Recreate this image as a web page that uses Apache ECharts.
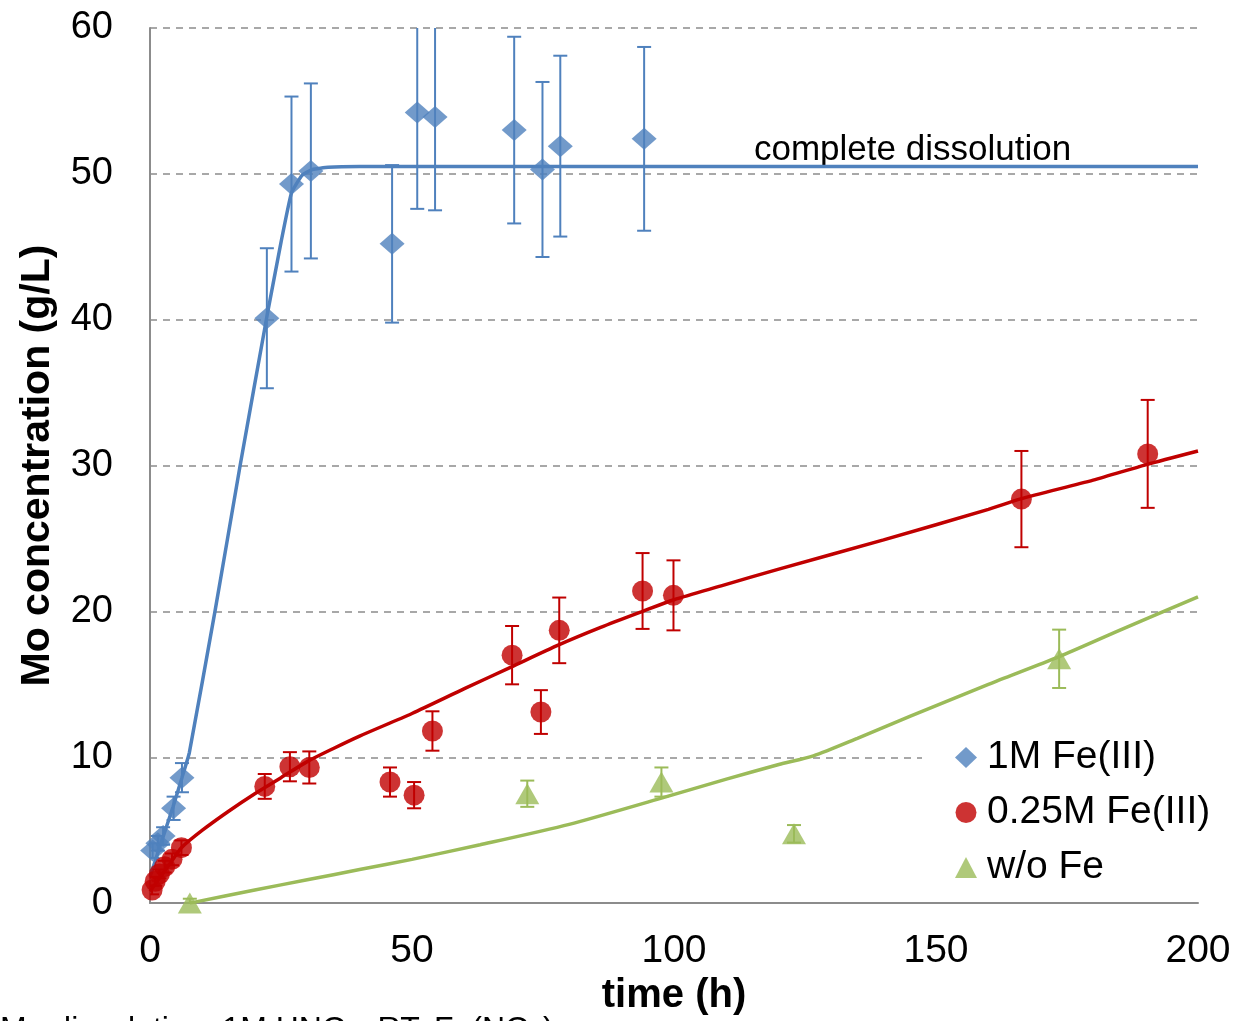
<!DOCTYPE html>
<html><head><meta charset="utf-8">
<script src="https://cdn.jsdelivr.net/npm/echarts@6/dist/echarts.min.js"></script>
<style>html,body{margin:0;padding:0;background:#fff;}#c{width:1234px;height:1021px;}</style>
</head><body><div id="c"></div>
<script>
// ---- data ----
const xTickValues = [0, 50, 100, 150, 200];
const yTickValues = [0, 10, 20, 30, 40, 50, 60];

const blueName = '1M Fe(III)';
const blueX = [0.5, 1.5, 2.5, 4.5, 6.1, 22.3, 27.0, 30.7, 46.2, 51.0, 54.4, 69.5, 74.9, 78.3, 94.3];
const blueY = [3.6, 4.1, 4.6, 6.5, 8.6, 40.1, 49.3, 50.2, 45.2, 54.2, 53.9, 53.0, 50.3, 51.9, 52.4];
const blueErr = [0.5, 0.5, 0.6, 0.8, 1.0, 4.8, 6.0, 6.0, 5.4, 6.6, 6.4, 6.4, 6.0, 6.2, 6.3];

const redName = '0.25M Fe(III)';
const redX = [0.4, 1.0, 1.8, 2.8, 4.2, 6.0, 21.9, 26.7, 30.4, 45.8, 50.4, 53.9, 69.1, 74.6, 78.1, 94.0, 99.9, 166.3, 190.4];
const redY = [0.9, 1.5, 2.0, 2.5, 3.0, 3.8, 8.0, 9.35, 9.3, 8.3, 7.4, 11.8, 17.0, 13.1, 18.7, 21.4, 21.1, 27.7, 30.8];
const redErr = [0.3, 0.3, 0.3, 0.4, 0.4, 0.5, 0.85, 1.0, 1.1, 1.0, 0.9, 1.35, 2.0, 1.5, 2.25, 2.6, 2.4, 3.3, 3.7];

const greenName = 'w/o Fe';
const greenX = [7.6, 72.0, 97.6, 122.9, 173.5];
const greenY = [0.0, 7.5, 8.3, 4.75, 16.75];
const greenErr = [0.3, 0.9, 1.0, 0.6, 2.0];

const blueFitX = [0, 2, 4.4, 6.1, 7.5, 12.4, 17.2, 22.3, 25, 27, 29, 31, 34, 40, 200];
const blueFitY = [1.8, 4.0, 6.6, 8.6, 10.3, 20.0, 30.0, 40.2, 45.3, 48.7, 49.9, 50.3, 50.45, 50.5, 50.5];

const redFitX = [0, 2, 4, 6, 10, 15, 20, 25, 30, 35, 40, 50, 60, 69, 78, 86, 94, 100, 109, 120, 140, 160, 166, 180, 190, 200];
const redFitY = [0.8, 1.8, 2.8, 3.8, 5.0, 6.3, 7.5, 8.6, 9.7, 10.6, 11.45, 13.0, 14.7, 16.2, 17.7, 18.9, 20.0, 20.8, 21.75, 22.9, 24.9, 27.0, 27.7, 29.0, 30.05, 31.0];

const greenFitX = [7.6, 20, 30, 40, 50, 63, 80, 97.6, 110, 120, 126.6, 135, 145, 160, 173.5, 185, 200];
const greenFitY = [0, 0.9, 1.6, 2.3, 3.0, 4.0, 5.4, 7.2, 8.5, 9.5, 10.1, 11.3, 12.8, 15.0, 16.9, 18.7, 21.0];

const annotationText = 'complete dissolution';
const footText = 'Mo dissolution: 1M HNO\u2083, RT, Fe(NO\u2083)\u2083';

// ---- styles ----
const BLUE = '#4F81BD', RED = '#C00000', GREEN = '#9BBB59';
const FONT = '"Liberation Sans", Arial, sans-serif';

function pairs(xs, ys) { return xs.map((x, i) => [x, ys[i]]); }

function errSeries(xs, ys, es, color) {
  return {
    type: 'custom', silent: true, clip: true, z: 3,
    data: xs.map((x, i) => [x, ys[i], es[i]]),
    encode: { x: 0, y: 1 },
    renderItem: function (params, api) {
      const x = api.value(0), y = api.value(1), e = api.value(2);
      const top = y + e, bot = y - e;
      const lo = api.coord([x, Math.max(0, bot)]);
      const hi = api.coord([x, Math.min(60, top)]);
      const hw = 7;
      const st = { stroke: color, lineWidth: 2 };
      const ch = [{ type: 'line', shape: { x1: lo[0], y1: lo[1], x2: hi[0], y2: hi[1] }, style: st }];
      if (top <= 60) ch.push({ type: 'line', shape: { x1: hi[0] - hw, y1: hi[1], x2: hi[0] + hw, y2: hi[1] }, style: st });
      if (bot >= 0) ch.push({ type: 'line', shape: { x1: lo[0] - hw, y1: lo[1], x2: lo[0] + hw, y2: lo[1] }, style: st });
      return { type: 'group', children: ch };
    }
  };
}

function fitSeries(xs, ys, color, sm) {
  return {
    type: 'line', data: pairs(xs, ys), showSymbol: false, symbol: 'none', smooth: sm,
    lineStyle: { color: color, width: 3.5 }, silent: true, z: 2, clip: true
  };
}

const chart = echarts.init(document.getElementById('c'), null, { renderer: 'canvas' });
chart.setOption({
  animation: false,
  backgroundColor: '#fff',
  grid: { left: 150, right: 36, top: 28, bottom: 114, containLabel: false },
  xAxis: {
    type: 'value', min: 0, max: 200, interval: 50,
    name: 'time (h)', nameLocation: 'middle', nameGap: 70,
    nameTextStyle: { fontFamily: FONT, fontWeight: 'bold', fontSize: 40, color: '#000' },
    axisLine: { show: true, lineStyle: { color: '#8C8C8C', width: 2 } },
    axisTick: { show: false },
    axisLabel: { fontFamily: FONT, fontSize: 39, color: '#000', margin: 29,
      customValues: xTickValues },
    splitLine: { show: false }
  },
  yAxis: {
    type: 'value', min: 0, max: 60, interval: 10,
    name: 'Mo concentration (g/L)', nameLocation: 'middle', nameGap: 92, nameRotate: 90,
    nameTextStyle: { fontFamily: FONT, fontWeight: 'bold', fontSize: 41, color: '#000' },
    axisLine: { show: true, lineStyle: { color: '#8C8C8C', width: 2 } },
    axisTick: { show: false },
    axisLabel: { fontFamily: FONT, fontSize: 38, color: '#000', margin: 37 },
    splitLine: { show: true, lineStyle: { color: '#8C8C8C', width: 1.5, type: [7, 6] } }
  },
  legend: {
    orient: 'vertical', left: 922, top: 726,
    backgroundColor: '#fff', padding: [12, 20, 8, 33],
    itemWidth: 22, itemHeight: 21, itemGap: 16,
    formatter: function (n) { return '{t|' + n + '}'; },
    textStyle: { fontFamily: FONT, fontSize: 39, color: '#000', lineHeight: 35,
      rich: { t: { fontFamily: FONT, fontSize: 39, color: '#000', lineHeight: 35, padding: [0, 0, 0, 5] } } },
    data: [
      { name: blueName, icon: 'diamond' },
      { name: redName, icon: 'circle' },
      { name: greenName, icon: 'triangle' }
    ]
  },
  graphic: [
    { type: 'text', left: 754, top: 133, silent: true,
      style: { text: annotationText, font: '35px ' + FONT, fill: '#000' } },
    { type: 'text', left: 0, top: 1014, silent: true,
      style: { text: footText, font: '32px ' + FONT, fill: '#000' } }
  ],
  series: [
    fitSeries(greenFitX, greenFitY, GREEN, 0.25),
    fitSeries(redFitX, redFitY, RED, 0.25),
    fitSeries(blueFitX, blueFitY, BLUE, 0.12),
    errSeries(greenX, greenY, greenErr, GREEN),
    errSeries(redX, redY, redErr, RED),
    errSeries(blueX, blueY, blueErr, BLUE),
    { name: greenName, type: 'scatter', data: pairs(greenX, greenY), symbol: 'triangle', symbolSize: [24, 21],
      itemStyle: { color: GREEN }, z: 4, clip: false },
    { name: redName, type: 'scatter', data: pairs(redX, redY), symbol: 'circle', symbolSize: 21,
      itemStyle: { color: RED }, z: 4, clip: false },
    { name: blueName, type: 'scatter', data: pairs(blueX, blueY), symbol: 'diamond', symbolSize: [25, 22],
      itemStyle: { color: BLUE }, z: 4, clip: false }
  ]
});
</script></body></html>
